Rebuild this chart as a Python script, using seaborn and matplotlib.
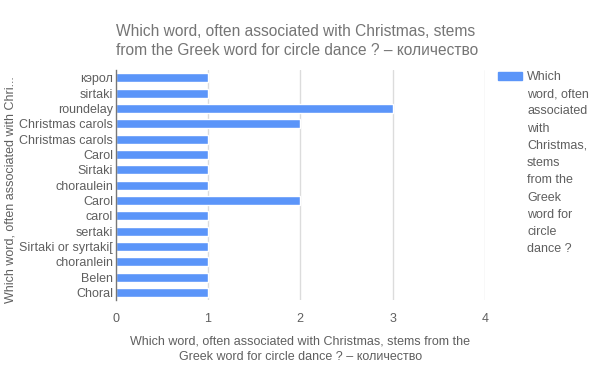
import matplotlib
matplotlib.use("Agg")
import matplotlib.pyplot as plt
from matplotlib.patches import Rectangle
import seaborn as sns
import pandas as pd

# --- data ---
labels = ["кэрол", "sirtaki", "roundelay", "Christmas carols", "Christmas carols",
          "Carol", "Sirtaki", "choraulein", "Carol", "carol", "sertaki",
          "Sirtaki or syrtaki[", "choranlein", "Belen", "Choral"]
counts = [1, 1, 3, 2, 1, 1, 1, 1, 2, 1, 1, 1, 1, 1, 1]
x_ticks = [0, 1, 2, 3, 4]

title = "Which word, often associated with Christmas, stems\nfrom the Greek word for circle dance ? – количество"
x_title = "Which word, often associated with Christmas, stems from the\nGreek word for circle dance ? – количество"
y_title = "Which word, often associated with Chri..."
legend_label = "Which\nword, often\nassociated\nwith\nChristmas,\nstems\nfrom the\nGreek\nword for\ncircle\ndance ?"

BAR = "#5b95f9"
TXT = "#5f5f5f"

sns.set_style("white")
plt.rcParams['font.family'] = ['Liberation Sans', 'DejaVu Sans']

df = pd.DataFrame({"pos": range(len(labels)), "label": labels, "count": counts})

fig = plt.figure(figsize=(6, 3.71), dpi=100)
ax = fig.add_axes([0.193, 0.191, 0.615, 0.62])

sns.barplot(data=df, x="count", y="pos", orient="h", color=BAR, width=0.6,
            saturation=1, ax=ax)

ax.set_yticks(range(len(labels)))
ax.set_yticklabels(labels)
ax.set_xlim(0, 4)
ax.set_xticks(x_ticks)
ax.set_xticklabels([str(t) for t in x_ticks])
ax.set_ylim(len(labels) - 0.5, -0.5)

for t in x_ticks[1:]:
    ax.axvline(t, color="#dcdcdc", lw=1, zorder=0)
ax.tick_params(axis="both", length=0, labelsize=9, colors=TXT)
ax.tick_params(axis="x", pad=9)
ax.tick_params(axis="y", pad=2)
for s in ["top", "right", "bottom"]:
    ax.spines[s].set_visible(False)
ax.spines["left"].set_color("#777777")
ax.spines["left"].set_linewidth(1)

ax.set_xlabel(x_title, fontsize=9, color=TXT, labelpad=8, linespacing=1.4)
ax.set_ylabel("")
fig.text(0.008, 0.49, y_title, rotation=90, ha="left", va="center", fontsize=9, color=TXT)

fig.text(0.193, 0.935, title, ha="left", va="top", fontsize=11.2, color="#757575", linespacing=1.35)

# legend drawn by hand so the swatch sits beside the first line
fig.add_artist(Rectangle((498 / 600, 1 - 80 / 371), 24 / 600, 8 / 371,
                         transform=fig.transFigure, color=BAR))
fig.text(527 / 600, 1 - 71 / 371, legend_label, ha="left", va="top", fontsize=9,
         color=TXT, linespacing=1.58)

fig.savefig("out.png", dpi=100)
